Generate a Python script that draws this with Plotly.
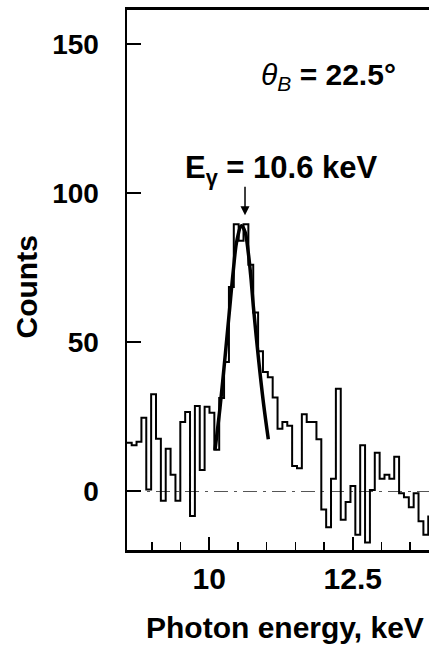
import plotly.graph_objects as go

# ---- data ----
energy_start = 8.563      # keV, left edge of first channel
bin_width = 0.0847        # keV per channel
counts = [16.3, 15.5, 16.7, 24.7, 0.7, 32.6, 17.7, -3.1, 14.3, 5.6,
          -3.1, 23.3, 26.6, -8.2, 28.6, 7.2, 28.4, 26.4, 14.0, 31.3,
          43.4, 68.5, 89.5, 84.0, 89.5, 76.0, 60.0, 47.0, 40.0, 38.3,
          31.5, 21.0, 23.3, 22.0, 8.5, 7.8, 25.9, 23.3, 23.3, 17.5,
          -6.0, -12.0, 4.3, 34.4, -9.5, -3.5, 1.8, -14.5, 15.5, -17.1,
          0.5, 13.0, 4.3, 5.6, 4.3, 11.6, -0.6, -1.9, -5.3, -0.6,
          -10.0, -14.5, -8.4]

fit_energy = [10.099, 10.186, 10.274, 10.348, 10.418, 10.480, 10.561,
              10.622, 10.679, 10.723, 10.767, 10.854, 10.941, 11.028]
fit_counts = [13.9, 28.0, 45.0, 60.0, 74.0, 84.0, 89.0,
              87.0, 80.0, 72.0, 62.0, 45.0, 30.0, 17.5]

x_ticks = [10, 12.5]
x_tick_labels = ["10", "12.5"]
y_ticks = [0, 50, 100, 150]
y_tick_labels = ["0", "50", "100", "150"]

# ---- geometry (page pixels; body margin removed below) ----
W, H = 429, 645
PLOT_L, PLOT_T, PLOT_B = 127, 10, 550
L, T, R = PLOT_L, PLOT_T, 0
B = H - PLOT_B
pw, ph = W - L - R, H - T - B
x_range = [8.566, 8.566 + pw / 57.4]
y_range = [-19.6, 161.3]

def px_x(px):
    return (px - PLOT_L) / pw

def px_y(py):
    return (PLOT_B - py) / ph

edges = [energy_start + i * bin_width for i in range(len(counts) + 1)]
step_y = counts + [counts[-1]]

FONT = "Liberation Sans, Arial, sans-serif"

fig = go.Figure()
fig.add_trace(go.Scatter(x=edges, y=step_y, mode="lines",
                         line=dict(shape="hv", color="black", width=2),
                         hoverinfo="skip", showlegend=False))
fig.add_trace(go.Scatter(x=fit_energy, y=fit_counts, mode="lines",
                         line=dict(shape="spline", color="black", width=3.5),
                         hoverinfo="skip", showlegend=False))

# zero line
fig.add_shape(type="line", xref="paper", x0=0, x1=1, yref="y", y0=0, y1=0,
              line=dict(color="#555555", width=1.2, dash="14px,6px,3px,6px"),
              layer="below")

fig.update_layout(
    width=W, height=H,
    margin=dict(l=L, r=R, t=T, b=B, pad=0),
    paper_bgcolor="white", plot_bgcolor="white",
    showlegend=False,
    font=dict(family=FONT, color="black"),
    xaxis=dict(range=x_range, showgrid=False, zeroline=False,
               showline=True, linecolor="black", linewidth=3, mirror=True,
               ticks="inside", ticklen=13, tickwidth=2, tickcolor="black",
               tickvals=x_ticks, ticktext=x_tick_labels,
               tickfont=dict(family=FONT, size=30, color="black", weight="bold"),
               ticklabelstandoff=0,
               minor=dict(dtick=0.5, tick0=10, ticks="inside", ticklen=8,
                          tickwidth=1.5, tickcolor="black", showgrid=False)),
    yaxis=dict(range=y_range, showgrid=False, zeroline=False,
               showline=True, linecolor="black", linewidth=2.5, mirror=False,
               ticks="inside", ticklen=14, tickwidth=2, tickcolor="black",
               tickvals=y_ticks, ticktext=y_tick_labels,
               tickfont=dict(family=FONT, size=28, color="black", weight="bold"),
               ticklabelstandoff=20),
)

fig.add_annotation(text="<b>Counts</b>", textangle=-90, showarrow=False,
                   xref="paper", yref="paper", x=px_x(26), y=px_y(287.5),
                   xanchor="center", yanchor="middle",
                   font=dict(family=FONT, size=30, color="black"))
fig.add_annotation(text="<b>Photon energy, keV</b>", showarrow=False,
                   xref="paper", yref="paper", x=px_x(285), y=px_y(627),
                   xanchor="center", yanchor="middle",
                   font=dict(family=FONT, size=30, color="black"))
fig.add_annotation(text="<i>θ<sub>B</sub></i><b> = 22.5°</b>", showarrow=False,
                   xref="paper", yref="paper", x=px_x(328), y=px_y(76),
                   xanchor="center", yanchor="middle",
                   font=dict(family=FONT, size=30, color="black"))
fig.add_annotation(text="<b>E<sub>γ</sub> = 10.6 keV</b>", showarrow=False,
                   xref="paper", yref="paper", x=px_x(281), y=px_y(170),
                   xanchor="center", yanchor="middle",
                   font=dict(family=FONT, size=31, color="black"))
fig.add_annotation(text="", x=10.622, y=92.5, xref="x", yref="y",
                   showarrow=True, ax=0, ay=-30, arrowhead=2, arrowsize=1.2,
                   arrowwidth=1.5, arrowcolor="black")

fig.write_html(
    "out.html",
    config={"displayModeBar": False, "staticPlot": True},
    post_script=("document.documentElement.style.margin='0';"
                 "document.body.style.margin='0';"
                 "document.documentElement.style.overflow='hidden';"
                 "document.body.style.overflow='hidden';"),
)
